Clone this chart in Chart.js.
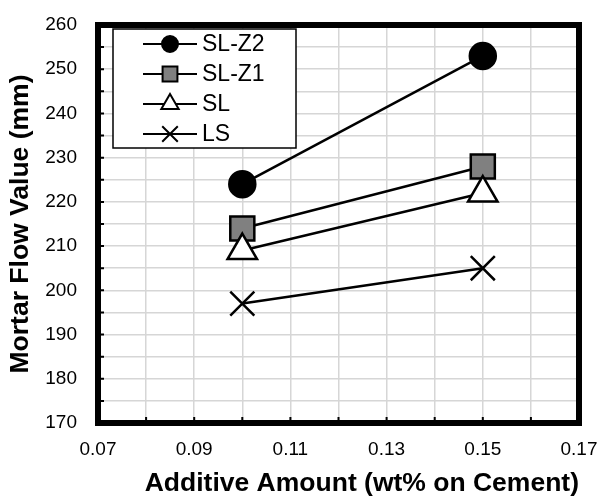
<!DOCTYPE html>
<html>
<head>
<meta charset="utf-8">
<script src="https://cdn.jsdelivr.net/npm/chart.js@4"></script>
<style>
    html, body { margin: 0; padding: 0; background: #fff; }
    #wrap { width: 600px; height: 500px; }
</style>
</head>
<body>
<div id="wrap"><canvas id="chart" width="600" height="500"></canvas></div>
<script>
// data
const additiveAmounts = [0.10, 0.15];
const seriesNames = ["SL-Z2", "SL-Z1", "SL", "LS"];
const flowSLZ2 = [224, 253];
const flowSLZ1 = [214, 228];
const flowSL = [209, 222];
const flowLS = [197, 205];

const xMin = 0.07, xMax = 0.17, xStep = 0.01;
const yMin = 170, yMax = 260, yStep = 5;

const FONT = "Arial, 'Liberation Sans', sans-serif";

function toPoints(values) {
    return values.map((v, i) => ({ x: additiveAmounts[i], y: v }));
}

const styles = [
    { pointStyle: "circle", radius: 13, legendRadius: 8, fill: "#000000" },
    { pointStyle: "rect", radius: 17, legendRadius: 10.5, fill: "#808080" },
    { pointStyle: "triangle", radius: 17, legendRadius: 10, fill: "#ffffff" },
    { pointStyle: "crossRot", radius: 17, legendRadius: 11, fill: "#000000" },
];
const seriesValues = [flowSLZ2, flowSLZ1, flowSL, flowLS];

const datasets = seriesNames.map((name, i) => ({
    label: name,
    data: toPoints(seriesValues[i]),
    showLine: true,
    borderColor: "#000000",
    borderWidth: 2.5,
    backgroundColor: styles[i].fill,
    pointStyle: styles[i].pointStyle,
    pointRadius: styles[i].radius,
    pointHoverRadius: styles[i].radius,
    pointBorderColor: "#000000",
    pointBackgroundColor: styles[i].fill,
    pointBorderWidth: 2.5,
    legendRadius: styles[i].legendRadius,
    order: 4 - i,
}));

function drawMarker(ctx, style, r, x, y, fill) {
    ctx.save();
    ctx.fillStyle = fill;
    ctx.strokeStyle = "#000";
    ctx.lineWidth = 2;
    Chart.helpers.drawPoint(ctx, { pointStyle: style, radius: r, borderWidth: 2, rotation: 0 }, x, y);
    ctx.restore();
}

// thick frame + inward tick marks + legend box inside the plot
const framePlugin = {
    id: "frame",
    afterDraw(chart) {
        const { ctx, chartArea: a, scales } = chart;
        ctx.save();

        // inward tick marks
        ctx.strokeStyle = "#000";
        ctx.lineWidth = 2;
        ctx.beginPath();
        scales.y.ticks.forEach((t) => {
            const py = scales.y.getPixelForValue(t.value);
            ctx.moveTo(a.left, py);
            ctx.lineTo(a.left + 6, py);
        });
        scales.x.ticks.forEach((t) => {
            const px = scales.x.getPixelForValue(t.value);
            ctx.moveTo(px, a.bottom);
            ctx.lineTo(px, a.bottom - 6);
        });
        ctx.stroke();

        // frame
        ctx.lineWidth = 6;
        ctx.lineJoin = "miter";
        ctx.strokeRect(a.left, a.top, a.right - a.left, a.bottom - a.top);

        // legend
        const lx = a.left + 15, ly = a.top + 4, lw = 183, lh = 119;
        ctx.fillStyle = "#fff";
        ctx.fillRect(lx, ly, lw, lh);
        ctx.lineWidth = 1.5;
        ctx.strokeRect(lx, ly, lw, lh);

        chart.data.datasets.forEach((ds, i) => {
            const ry = ly + 15 + i * 30;
            ctx.strokeStyle = "#000";
            ctx.lineWidth = 2;
            ctx.beginPath();
            ctx.moveTo(lx + 30, ry);
            ctx.lineTo(lx + 84, ry);
            ctx.stroke();
            drawMarker(ctx, ds.pointStyle, ds.legendRadius, lx + 57, ry, ds.pointBackgroundColor);

            ctx.fillStyle = "#000";
            ctx.font = "23px " + FONT;
            ctx.textBaseline = "middle";
            ctx.textAlign = "left";
            ctx.fillText(ds.label, lx + 89, ry + 1);
        });

        ctx.restore();
    },
};

const chart = new Chart(document.getElementById("chart"), {
    type: "scatter",
    data: { datasets },
    options: {
        responsive: false,
        animation: false,
        devicePixelRatio: 1,
        layout: { padding: { top: 25, right: 21, left: 0, bottom: 0 } },
        plugins: {
            legend: { display: false },
            tooltip: { enabled: false },
        },
        scales: {
            x: {
                type: "linear",
                min: xMin,
                max: xMax,
                afterFit: (scale) => {
                    scale.height = 77;
                    scale.paddingLeft = 0;
                    scale.paddingRight = 0;
                },
                grid: { color: "#d6d6d6", lineWidth: 1.5, drawTicks: false },
                border: { display: false },
                ticks: {
                    stepSize: xStep,
                    autoSkip: false,
                    maxRotation: 0,
                    padding: 15,
                    color: "#000",
                    font: { family: FONT, size: 19 },
                    callback: (v) => (Math.round(v * 100) % 2 === 1 ? v.toFixed(2) : ""),
                },
                title: {
                    display: true,
                    align: "end",
                    text: "Additive Amount (wt% on Cement)",
                    color: "#000",
                    font: { family: FONT, size: 26.5, weight: "bold" },
                    padding: { top: 0, bottom: 0 },
                },
            },
            y: {
                type: "linear",
                min: yMin,
                max: yMax,
                afterFit: (scale) => {
                    scale.width = 98;
                    scale.paddingTop = 0;
                    scale.paddingBottom = 0;
                },
                grid: { color: "#d6d6d6", lineWidth: 1.5, drawTicks: false },
                border: { display: false },
                ticks: {
                    stepSize: yStep,
                    autoSkip: false,
                    padding: 21,
                    color: "#000",
                    font: { family: FONT, size: 19 },
                    callback: (v) => (v % 10 === 0 ? v : ""),
                },
                title: {
                    display: true,
                    text: "Mortar Flow Value (mm)",
                    color: "#000",
                    font: { family: FONT, size: 26.5, weight: "bold" },
                    padding: { top: 5, bottom: 0 },
                },
            },
        },
    },
    plugins: [framePlugin],
});
</script>
</body>
</html>
